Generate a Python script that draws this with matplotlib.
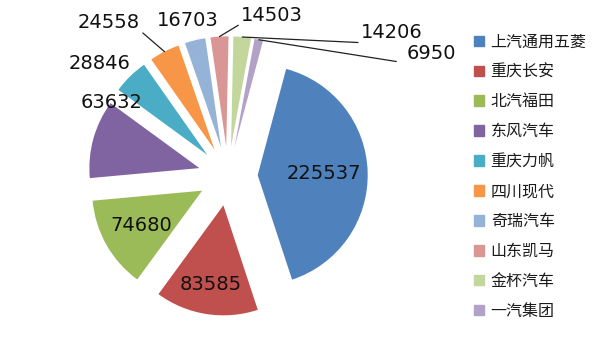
import numpy as np
import matplotlib
matplotlib.use('Agg')
import matplotlib.pyplot as plt
import matplotlib.patches as mpatches

plt.rcParams['font.family'] = ['Noto Sans CJK SC', 'DejaVu Sans']

# data
brands = ['上汽通用五菱', '重庆长安', '北汽福田', '东风汽车', '重庆力帆',
          '四川现代', '奇瑞汽车', '山东凯马', '金杯汽车', '一汽集团']
sales = [225537, 83585, 74680, 63632, 28846, 24558, 16703, 14503, 14206, 6950]
colors = ['#4F81BD', '#C0504D', '#9BBB59', '#8064A2', '#4BACC6',
          '#F79646', '#95B3D7', '#D99694', '#C3D69B', '#B3A2C7']

# label placement (data coords, pie radius = 1)
inside = {0: 0.6, 1: 0.73, 2: 0.64}
outside = {3: (-1.055, 0.664), 4: (-1.164, 1.027), 5: (-1.082, 1.40),
           6: (-0.364, 1.418), 7: (0.40, 1.455), 8: (1.491, 1.30),
           9: (1.845, 1.11)}
# leader lines: slice index -> relpos on the text box
leaders = {5: (1.0, 0.05), 7: (0.0, 0.1), 8: (-0.05, 0.0), 9: (-0.2, 0.1)}

expl = 0.27

fig = plt.figure(figsize=(6, 3.55), dpi=100)
ax = fig.add_axes([0, 0, 1, 1])
wedges, _ = ax.pie(sales, colors=colors, startangle=75, counterclock=False,
                   explode=[expl] * len(sales), radius=1,
                   wedgeprops=dict(linewidth=0))
ax.set_xlim(-228 / 110, (600 - 228) / 110)
ax.set_ylim((176 - 355) / 110, 176 / 110)
ax.set_aspect('equal')
ax.axis('off')

for i, w in enumerate(wedges):
    mid = np.deg2rad((w.theta1 + w.theta2) / 2)
    cx, cy = w.center
    d = np.array([np.cos(mid), np.sin(mid)])
    txt = str(sales[i])
    if i in inside:
        p = np.array([cx, cy]) + inside[i] * d
        ax.text(p[0], p[1], txt, ha='center', va='center', fontsize=14,
                family='DejaVu Sans', color='#111111')
    else:
        tx, ty = outside[i]
        if i in leaders:
            tip = np.array([cx, cy]) + w.r * d
            ax.annotate(txt, xy=tip, xytext=(tx, ty), ha='center', va='center',
                        fontsize=14, family='DejaVu Sans', color='#111111',
                        arrowprops=dict(arrowstyle='-', color='#222222', lw=0.9,
                                        shrinkA=0, shrinkB=0,
                                        relpos=leaders[i]))
        else:
            ax.text(tx, ty, txt, ha='center', va='center', fontsize=14,
                    family='DejaVu Sans', color='#111111')

handles = [mpatches.Patch(color=c, label=b) for b, c in zip(brands, colors)]
fig.legend(handles=handles, loc='upper left', bbox_to_anchor=(468 / 600, 1 - 27 / 355),
           frameon=False, fontsize=11.5, handlelength=0.62, handleheight=0.62,
           handletextpad=0.4, labelspacing=0.81, borderaxespad=0,
           labelcolor='#1a1a1a')

fig.savefig('out.png', dpi=100)
